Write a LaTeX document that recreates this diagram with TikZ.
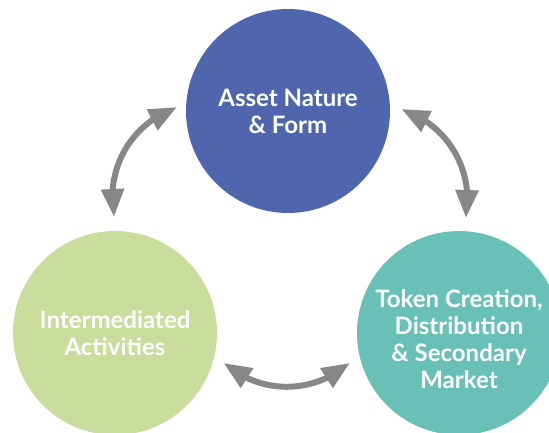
\documentclass[tikz,border=0pt]{standalone}
\usepackage{fontspec}
\setmainfont{Lato}
\usetikzlibrary{arrows.meta,bending}
\definecolor{cblue}{HTML}{4F66AF}
\definecolor{cgreen}{HTML}{C9DD9C}
\definecolor{cteal}{HTML}{69C0B6}
\definecolor{cgray}{HTML}{878787}
\begin{document}
\begin{tikzpicture}[x=1pt,y=-1pt,
  blob/.style={circle,minimum size=204pt,inner sep=0pt,text=white,
    font=\bfseries\fontsize{24}{27}\selectfont,align=center},
  link/.style={draw=cgray,line width=6pt,
    {Triangle[length=28pt,width=22pt]}-{Triangle[length=28pt,width=22pt]}}]
\useasboundingbox (0,0) rectangle (549,432);
\node[blob,fill=cblue] (top) at (288,111) {Asset Nature\\\& Form};
\node[blob,fill=cgreen] (left) at (115,333) {Intermediated\\Activities};
\node[blob,fill=cteal] (right) at (459,333) {\raisebox{-16pt}[0pt][0pt]{\begin{tabular}{@{}c@{}}Token Creation,\\Distribution\\\& Secondary\\Market\end{tabular}}};
\coordinate (la) at (177,107);
\coordinate (lb) at (114,217);
\coordinate (ra) at (401.5,109);
\coordinate (rb) at (466,218);
\coordinate (ba) at (223.5,363);
\coordinate (bb) at (350,363);
\draw[link] (la) to[bend right=40] (lb);
\draw[link] (ra) to[bend left=40] (rb);
\draw[link] (ba) to[bend right=40] (bb);
\end{tikzpicture}
\end{document}
